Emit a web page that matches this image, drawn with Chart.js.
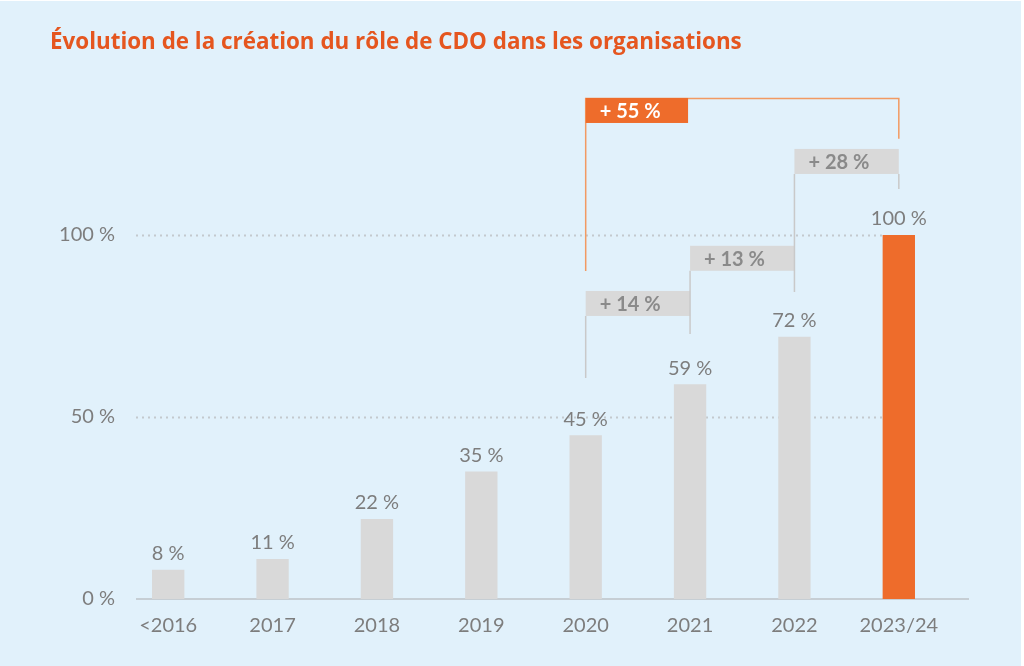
<!DOCTYPE html>
<html>
<head>
<meta charset="utf-8">
<script src="https://cdn.jsdelivr.net/npm/chart.js@4.4.1/dist/chart.umd.min.js"></script>
<style>
    html, body { margin: 0; padding: 0; background: #ffffff; }
</style>
</head>
<body>
<canvas id="myChart" width="1024" height="666"></canvas>
<script>
// chart data
const categories = ["<2016", "2017", "2018", "2019", "2020", "2021", "2022", "2023/24"]
const values = [8, 11, 22, 35, 45, 59, 72, 100]
const yTicks = [0, 50, 100]

// growth brackets
const stepFrom = ["2020", "2021", "2022", "2020"]
const stepTo = ["2021", "2022", "2023/24", "2023/24"]
const stepLabels = ["+ 14 %", "+ 13 %", "+ 28 %", "+ 55 %"]

// where the brackets sit, in y axis units
const stepLayout = [
    { box: 84.6, left: 60.7, right: null },
    { box: 97.0, left: 72.8, right: null },
    { box: 123.6, left: 84.3, right: 112.6 },
    { box: 137.6, left: 90.1, right: 126.4, highlight: true }
]

const grey = '#d9d9d9'
const orange = '#ee6c2b'
const textGrey = '#7d7d7d'
const fontName = 'Lato, "Open Sans", sans-serif'

const barColors = values.map(function (v, i) {
    return i === values.length - 1 ? orange : grey
})

const backgroundPlugin = {
    id: 'background',
    beforeDraw: function (chart) {
        const ctx = chart.ctx
        ctx.save()
        ctx.fillStyle = '#ffffff'
        ctx.fillRect(0, 0, chart.width, chart.height)
        ctx.fillStyle = '#e1f1fb'
        ctx.fillRect(0, 1, chart.width - 3, chart.height - 1)
        ctx.restore()
    }
}

const gridPlugin = {
    id: 'customGrid',
    beforeDatasetsDraw: function (chart) {
        const ctx = chart.ctx
        const area = chart.chartArea
        const y = chart.scales.y
        const bars = chart.getDatasetMeta(0).data
        const last = bars[bars.length - 1]
        const startX = area.left + 20
        ctx.save()
        ctx.strokeStyle = '#c3c9ce'
        ctx.lineWidth = 2
        ctx.setLineDash([2, 4])
        yTicks.forEach(function (t) {
            if (t === 0) return
            const py = Math.round(y.getPixelForValue(t)) + 0.5
            ctx.beginPath()
            ctx.moveTo(startX, py)
            ctx.lineTo(last.x - last.width / 2, py)
            ctx.stroke()
        })
        ctx.setLineDash([])
        ctx.strokeStyle = '#c6ced4'
        ctx.beginPath()
        const by = y.getPixelForValue(0)
        ctx.moveTo(startX, by)
        ctx.lineTo(area.right + 18, by)
        ctx.stroke()
        ctx.restore()
    }
}

const valueLabelPlugin = {
    id: 'valueLabels',
    afterDatasetsDraw: function (chart) {
        const ctx = chart.ctx
        const bars = chart.getDatasetMeta(0).data
        ctx.save()
        ctx.font = '20px ' + fontName
        ctx.fillStyle = textGrey
        ctx.textAlign = 'center'
        ctx.textBaseline = 'bottom'
        bars.forEach(function (bar, i) {
            ctx.fillText(values[i] + ' %', bar.x, bar.y - 6)
        })
        ctx.restore()
    }
}

const bracketPlugin = {
    id: 'brackets',
    afterDraw: function (chart) {
        const ctx = chart.ctx
        const x = chart.scales.x
        const y = chart.scales.y
        const boxH = 25
        ctx.save()
        stepLabels.forEach(function (label, i) {
            const lay = stepLayout[i]
            const x1 = x.getPixelForValue(categories.indexOf(stepFrom[i]))
            const x2 = x.getPixelForValue(categories.indexOf(stepTo[i]))
            const unit = x.getPixelForValue(1) - x.getPixelForValue(0)
            const top = y.getPixelForValue(lay.box)
            ctx.strokeStyle = lay.highlight ? '#f29a62' : '#c9c9c9'
            ctx.lineWidth = 1.5
            ctx.beginPath()
            if (lay.highlight) {
                ctx.moveTo(x1, y.getPixelForValue(lay.left))
                ctx.lineTo(x1, top + 0.5)
                ctx.lineTo(x2, top + 0.5)
                ctx.lineTo(x2, y.getPixelForValue(lay.right))
            } else {
                ctx.moveTo(x1, top + boxH)
                ctx.lineTo(x1, y.getPixelForValue(lay.left))
                if (lay.right !== null) {
                    ctx.moveTo(x2, top + boxH)
                    ctx.lineTo(x2, y.getPixelForValue(lay.right))
                }
            }
            ctx.stroke()

            const boxW = lay.highlight ? unit - 2 : x2 - x1
            ctx.fillStyle = lay.highlight ? orange : grey
            ctx.fillRect(x1, top, boxW, boxH)

            ctx.fillStyle = lay.highlight ? '#ffffff' : '#8a8a8a'
            ctx.font = 'bold 20px ' + fontName
            ctx.textAlign = 'left'
            ctx.textBaseline = 'middle'
            ctx.fillText(label, x1 + 14, top + boxH / 2 + 1)
        })
        ctx.restore()
    }
}

const data = {
    labels: categories,
    datasets: [{
        label: "CDO",
        data: values,
        backgroundColor: barColors,
        borderWidth: 0,
        categoryPercentage: 1,
        barPercentage: 0.31
    }]
}

const config = {
    type: 'bar',
    data: data,
    options: {
        responsive: false,
        animation: false,
        layout: {
            padding: { left: 50, right: 73, top: 0, bottom: 0 }
        },
        plugins: {
            legend: { display: false },
            tooltip: { enabled: false },
            title: {
                display: true,
                text: 'Évolution de la création du rôle de CDO dans les organisations',
                align: 'start',
                color: '#e5561f',
                font: { family: '"Open Sans", sans-serif', size: 22.4, weight: 'bold', lineHeight: 1.2 },
                padding: { top: 29, bottom: 179 }
            }
        },
        scales: {
            x: {
                grid: { display: false, drawTicks: false },
                border: { display: false },
                ticks: {
                    color: textGrey,
                    font: { family: fontName, size: 20 },
                    padding: 15
                },
                afterFit: function (scale) {
                    scale.height = 67
                }
            },
            y: {
                min: 0,
                max: 100,
                grid: { display: false, drawTicks: false },
                border: { display: false },
                afterBuildTicks: function (scale) {
                    scale.ticks = yTicks.map(function (v) { return { value: v } })
                },
                ticks: {
                    color: textGrey,
                    font: { family: fontName, size: 20 },
                    padding: 1,
                    callback: function (v) { return v + ' %' }
                },
                afterFit: function (scale) {
                    scale.width = 66
                }
            }
        }
    },
    plugins: [backgroundPlugin, gridPlugin, valueLabelPlugin, bracketPlugin]
}

const myChart = new Chart(document.getElementById("myChart"), config)
</script>
</body>
</html>
